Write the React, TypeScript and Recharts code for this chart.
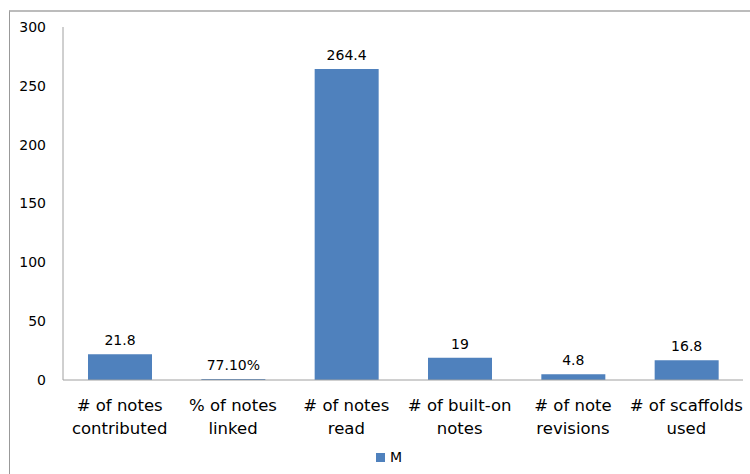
import React from "react";
import { BarChart, Bar, XAxis, YAxis, LabelList } from "recharts";

const categories = [
  ["# of notes", "contributed"],
  ["% of notes", "linked"],
  ["# of notes", "read"],
  ["# of built-on", "notes"],
  ["# of note", "revisions"],
  ["# of scaffolds", "used"],
];
const values = [21.8, 0.771, 264.4, 19, 4.8, 16.8];
const valueLabels = ["21.8", "77.10%", "264.4", "19", "4.8", "16.8"];
const yTicks = [0, 50, 100, 150, 200, 250, 300];
const seriesName = "M";

const data = categories.map((c, i) => ({
  name: c.join(" "),
  M: values[i],
  label: valueLabels[i],
}));

const FONT = "'DejaVu Sans', sans-serif";
const BLUE = "#4F81BD";

const XTick = (props: any) => {
  const { x, y, index } = props;
  const lines = categories[index] || [];
  return (
    <text x={x} y={y} textAnchor="middle" fill="#000" fontFamily={FONT} fontSize={16.5}>
      {lines.map((l: string, i: number) => (
        <tspan key={i} x={x} y={y + 29 + i * 23}>
          {l}
        </tspan>
      ))}
    </text>
  );
};

export default function App() {
  return (
    <div style={{ position: "absolute", left: 0, top: 0, width: 750, height: 474, background: "#fff", overflow: "hidden" }}>
      <div
        style={{
          position: "absolute",
          left: 9,
          top: 10,
          width: 760,
          height: 480,
          borderTop: "2px solid #bcbcbc",
          borderLeft: "1px solid #999",
        }}
      />
      <div style={{ position: "absolute", left: 0, top: 0 }}>
        <BarChart
          width={750}
          height={474}
          data={data}
          margin={{ top: 27, right: 7, bottom: 0, left: 0 }}
        >
          <XAxis
            dataKey="name"
            tick={<XTick />}
            tickLine={false}
            tickSize={0}
            axisLine={{ stroke: "#a0a0a0" }}
            interval={0}
            height={94}
          />
          <YAxis
            domain={[0, 300]}
            ticks={yTicks}
            tickLine={false}
            tickSize={0}
            tickMargin={17}
            axisLine={{ stroke: "#a0a0a0" }}
            width={63}
            tick={{ fill: "#000", fontFamily: FONT, fontSize: 14 }}
          />
          <Bar dataKey="M" name={seriesName} fill={BLUE} barSize={64} isAnimationActive={false}>
            <LabelList
              dataKey="label"
              position="top"
              offset={9}
              fill="#000"
              fontFamily={FONT}
              fontSize={14}
            />
          </Bar>
        </BarChart>
      </div>
      <div
        style={{
          position: "absolute",
          left: 376,
          top: 449,
          display: "flex",
          alignItems: "center",
          fontFamily: FONT,
          fontSize: 14,
          color: "#000",
        }}
      >
        <span style={{ width: 9, height: 9, background: BLUE, display: "inline-block", marginRight: 5 }} />
        <span>{seriesName}</span>
      </div>
    </div>
  );
}
